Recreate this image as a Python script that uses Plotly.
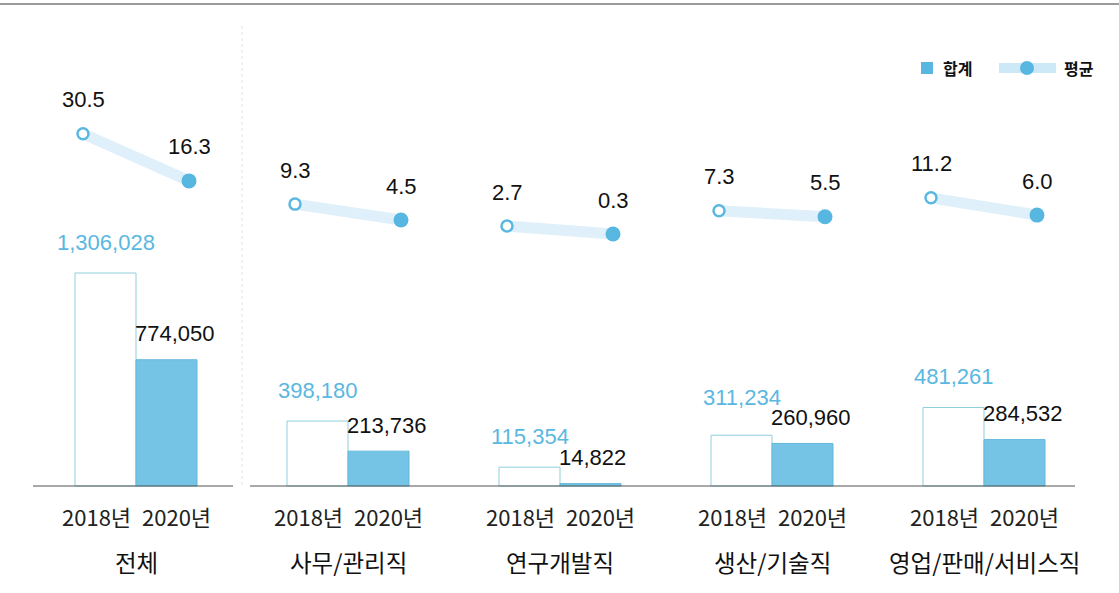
import plotly.graph_objects as go

categories = ["전체", "사무/관리직", "연구개발직", "생산/기술직", "영업/판매/서비스직"]
years = ["2018년", "2020년"]
total_2018 = [1306028, 398180, 115354, 311234, 481261]
total_2020 = [774050, 213736, 14822, 260960, 284532]
avg_2018 = [30.5, 9.3, 2.7, 7.3, 11.2]
avg_2020 = [16.3, 4.5, 0.3, 5.5, 6.0]

W, H = 1119, 593
GROUP_PX = 212.0
CENTER0 = 136.0
BAR_W = 61 / GROUP_PX
PT_OFF = 53 / GROUP_PX
TICK_OFF = 40 / GROUP_PX

x_lo = -CENTER0 / GROUP_PX
x_hi = (W - CENTER0) / GROUP_PX

# bar axis: baseline at pixel 486, 213px per 1,306,028
bar_per_px = 1306028 / 213.0
y_lo = -(H - 486) * bar_per_px
y_hi = 486 * bar_per_px
# line axis: zero at pixel 235, 3.32 px per unit
ln_per_px = 1 / 3.32
y2_lo = -(H - 235) * ln_per_px
y2_hi = 235 * ln_per_px

idx = list(range(len(categories)))
LIGHT = "#5ab8e0"
FILL = "#76c4e5"
BAND = "#dff0fa"
FONT_NUM = "Liberation Sans, Arial, sans-serif"
FONT_KR = "Noto Sans CJK KR, Noto Sans, sans-serif"
# extra vertical lift for the 2018 total labels (to avoid overlapping neighbours)
lift_2018 = [31, 31, 31, 38, 31]

fig = go.Figure()
fig.add_trace(go.Bar(x=[i - BAR_W / 2 for i in idx], y=total_2018, width=BAR_W,
                     marker=dict(color="white", line=dict(color="#8fcfdc", width=1)),
                     showlegend=False, yaxis="y"))
fig.add_trace(go.Bar(x=[i + BAR_W / 2 for i in idx], y=total_2020, width=BAR_W,
                     marker=dict(color=FILL, line=dict(color="#62b9dc", width=1)),
                     showlegend=False, yaxis="y"))

for i in idx:
    fig.add_trace(go.Scatter(x=[i - PT_OFF, i + PT_OFF], y=[avg_2018[i], avg_2020[i]],
                             mode="lines", line=dict(color=BAND, width=11),
                             showlegend=False, yaxis="y2", hoverinfo="skip"))
fig.add_trace(go.Scatter(x=[i - PT_OFF for i in idx], y=avg_2018, mode="markers",
                         marker=dict(size=11, color="white", line=dict(color=LIGHT, width=2.5)),
                         showlegend=False, yaxis="y2"))
fig.add_trace(go.Scatter(x=[i + PT_OFF for i in idx], y=avg_2020, mode="markers",
                         marker=dict(size=15, color="#57b7e1", line=dict(width=0)),
                         showlegend=False, yaxis="y2"))

ann = []
for i in idx:
    ann.append(dict(x=i - BAR_W / 2, y=total_2018[i], xref="x", yref="y", text=f"{total_2018[i]:,}",
                    showarrow=False, yanchor="middle", yshift=lift_2018[i],
                    font=dict(family=FONT_NUM, size=22, color=LIGHT)))
    ann.append(dict(x=i, y=total_2020[i], xref="x", yref="y", text=f"{total_2020[i]:,}",
                    showarrow=False, xanchor="left", xshift=-3, yanchor="middle", yshift=26,
                    font=dict(family=FONT_NUM, size=22, color="#111111")))
    ann.append(dict(x=i - PT_OFF, y=avg_2018[i], xref="x", yref="y2", text=f"{avg_2018[i]:.1f}",
                    showarrow=False, yanchor="middle", yshift=34,
                    font=dict(family=FONT_NUM, size=22, color="#111111")))
    ann.append(dict(x=i + PT_OFF, y=avg_2020[i], xref="x", yref="y2", text=f"{avg_2020[i]:.1f}",
                    showarrow=False, yanchor="middle", yshift=34,
                    font=dict(family=FONT_NUM, size=22, color="#111111")))
    ann.append(dict(x=i, y=1 - 562 / H, xref="x", yref="paper", text=categories[i],
                    showarrow=False, yanchor="middle",
                    font=dict(family=FONT_KR, size=23.5, color="#111111")))
    for k, off in enumerate([-TICK_OFF, TICK_OFF]):
        ann.append(dict(x=i + off, y=1 - 516 / H, xref="x", yref="paper", text=years[k],
                        showarrow=False, yanchor="middle",
                        font=dict(family=FONT_KR, size=22, color="#222222")))

# legend (manual)
ann.append(dict(x=941 / W, y=1 - 68 / H, xref="paper", yref="paper", text="<b>합계</b>",
                showarrow=False, xanchor="left", yanchor="middle",
                font=dict(family=FONT_KR, size=16, color="#111111")))
ann.append(dict(x=1062 / W, y=1 - 68 / H, xref="paper", yref="paper", text="<b>평균</b>",
                showarrow=False, xanchor="left", yanchor="middle",
                font=dict(family=FONT_KR, size=16, color="#111111")))

shapes = [
    dict(type="line", xref="paper", yref="paper", x0=0, x1=1, y0=1 - 4 / H, y1=1 - 4 / H,
         line=dict(color="#9a9a9a", width=2)),
    dict(type="line", xref="x", yref="y", x0=(33 - CENTER0) / GROUP_PX, x1=(233 - CENTER0) / GROUP_PX,
         y0=0, y1=0, line=dict(color="#555555", width=1.2)),
    dict(type="line", xref="x", yref="y", x0=(250 - CENTER0) / GROUP_PX, x1=(1075 - CENTER0) / GROUP_PX,
         y0=0, y1=0, line=dict(color="#555555", width=1.2)),
    dict(type="line", xref="x", yref="paper", x0=0.5, x1=0.5, y0=1 - 485 / H, y1=1 - 25 / H,
         line=dict(color="#e4e4e4", width=1, dash="dot")),
    dict(type="rect", xref="paper", yref="paper", x0=921 / W, x1=933 / W,
         y0=1 - 74 / H, y1=1 - 62 / H, fillcolor="#57b7e1", line=dict(width=0)),
    dict(type="rect", xref="paper", yref="paper", x0=999 / W, x1=1056 / W,
         y0=1 - 73 / H, y1=1 - 63 / H, fillcolor="#cde9f7", line=dict(width=0)),
    dict(type="circle", xref="paper", yref="paper", x0=1020 / W, x1=1034 / W,
         y0=1 - 75 / H, y1=1 - 61 / H, fillcolor="#57b7e1", line=dict(width=0)),
]

fig.update_layout(
    width=W, height=H, margin=dict(l=0, r=0, t=0, b=0, autoexpand=False),
    paper_bgcolor="white", plot_bgcolor="white",
    barmode="overlay", showlegend=False,
    xaxis=dict(range=[x_lo, x_hi], showgrid=False, zeroline=False, showline=False,
               showticklabels=False, ticks="", automargin=False),
    yaxis=dict(range=[y_lo, y_hi], visible=False, showgrid=False, zeroline=False),
    yaxis2=dict(range=[y2_lo, y2_hi], overlaying="y", visible=False, showgrid=False, zeroline=False),
    annotations=ann, shapes=shapes,
)
fig.write_html("out.html", config={"displayModeBar": False},
               post_script="document.body.style.margin='0';document.body.style.overflow='hidden';")
